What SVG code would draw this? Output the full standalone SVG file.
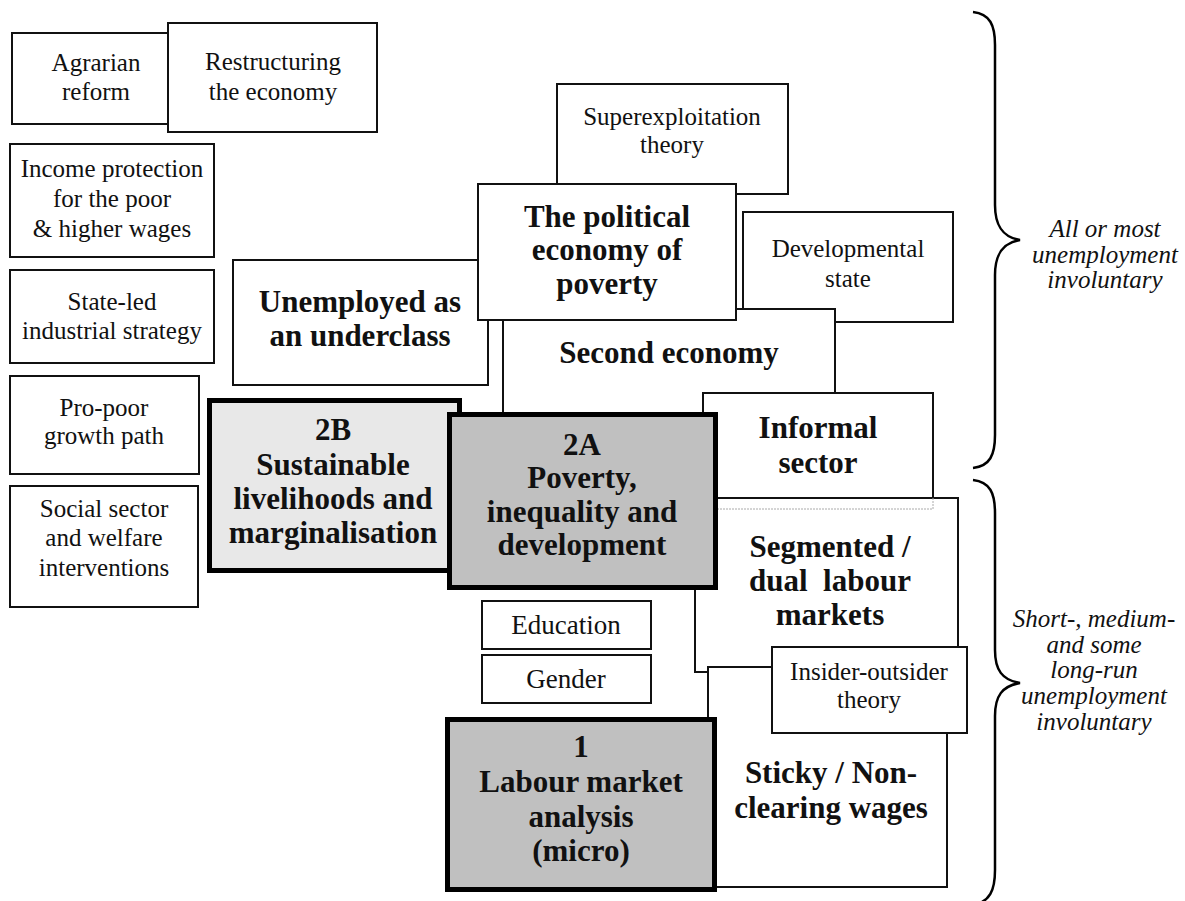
<svg xmlns="http://www.w3.org/2000/svg" width="1185" height="901" viewBox="0 0 1185 901" font-family="'Liberation Serif', 'DejaVu Serif', serif">
<style>
.box{fill:#fff;stroke:#111;stroke-width:2}
.thick{stroke:#000;stroke-width:5}
.grey{fill:#c0c0c0}
.light{fill:#e8e8e8}
text{font-family:'Liberation Serif','DejaVu Serif',serif;text-anchor:middle;fill:#111}
.r{font-size:25px}
.m{font-size:27px}
.b{font-size:31px;font-weight:bold}
.i{font-size:25px;font-style:italic}
.brace{fill:none;stroke:#000;stroke-width:2.5}
</style>
<rect width="1185" height="901" fill="#fff"/>
<g id="agrarian"><rect class="box" x="12" y="33" width="170" height="91"/><text class="r" x="96" y="71">Agrarian</text><text class="r" x="96" y="100">reform</text></g>
<g id="restructuring"><rect class="box" x="168" y="23" width="209" height="109"/><text class="r" x="273" y="70">Restructuring</text><text class="r" x="273" y="100">the economy</text></g>
<g id="income"><rect class="box" x="10" y="144" width="204" height="113"/><text class="r" x="112" y="177">Income protection</text><text class="r" x="112" y="207">for the poor</text><text class="r" x="112" y="237">&amp; higher wages</text></g>
<g id="stateled"><rect class="box" x="10" y="270" width="204" height="93"/><text class="r" x="112" y="310">State-led</text><text class="r" x="112" y="339">industrial strategy</text></g>
<g id="propoor"><rect class="box" x="10" y="376" width="189" height="98"/><text class="r" x="104" y="416">Pro-poor</text><text class="r" x="104" y="444">growth path</text></g>
<g id="social"><rect class="box" x="10" y="486" width="188" height="121"/><text class="r" x="104" y="517">Social sector</text><text class="r" x="104" y="546">and welfare</text><text class="r" x="104" y="576">interventions</text></g>
<g id="superexploitation"><rect class="box" x="557" y="84" width="231" height="110"/><text class="r" x="672" y="125">Superexploitation</text><text class="r" x="672" y="153">theory</text></g>
<g id="developmental"><rect class="box" x="743" y="212" width="210" height="110"/><text class="r" x="848" y="257">Developmental</text><text class="r" x="848" y="287">state</text></g>
<g id="underclass"><rect class="box" x="233" y="260" width="255" height="125"/><text class="b" x="360" y="312">Unemployed as</text><text class="b" x="360" y="346">an underclass</text></g>
<g id="secondeconomy"><rect class="box" x="503" y="309" width="332" height="111"/><text class="b" x="669" y="363">Second economy</text></g>
<g id="politicaleconomy"><rect class="box" x="478" y="184" width="258" height="136"/><text class="b" x="607" y="227">The political</text><text class="b" x="607" y="260">economy of</text><text class="b" x="607" y="294">poverty</text></g>
<g id="n2B"><rect class="thick light" x="209.5" y="400.5" width="250" height="170"/><text class="b" x="333" y="440">2B</text><text class="b" x="333" y="475">Sustainable</text><text class="b" x="333" y="509">livelihoods and</text><text class="b" x="333" y="543">marginalisation</text></g>
<g id="informal"><rect class="box" x="703" y="393" width="230" height="105"/><text class="b" x="818" y="438">Informal</text><text class="b" x="818" y="473">sector</text></g>
<g id="segmented"><rect class="box" x="695" y="498" width="263" height="174"/><path d="M717 509H933V498" fill="none" stroke="#aaa" stroke-width="1" stroke-dasharray="2 1"/><text class="b" x="830" y="557">Segmented /</text><text class="b" x="830" y="591" xml:space="preserve">dual  labour</text><text class="b" x="830" y="625">markets</text></g>
<g id="sticky"><rect class="box" x="708" y="667" width="239" height="220"/><text class="b" x="831" y="783">Sticky / Non-</text><text class="b" x="831" y="818">clearing wages</text></g>
<g id="insider"><rect class="box" x="772" y="647" width="195" height="86"/><text class="r" x="869" y="680">Insider-outsider</text><text class="r" x="869" y="708">theory</text></g>
<g id="n2A"><rect class="thick grey" x="449.5" y="414.5" width="266" height="173"/><text class="b" x="582" y="455">2A</text><text class="b" x="582" y="488">Poverty,</text><text class="b" x="582" y="522">inequality and</text><text class="b" x="582" y="555">development</text></g>
<g id="education"><rect class="box" x="482" y="601" width="169" height="48"/><text class="m" x="566" y="634">Education</text></g>
<g id="gender"><rect class="box" x="482" y="655" width="169" height="48"/><text class="m" x="566" y="688">Gender</text></g>
<g id="n1"><rect class="thick grey" x="447.5" y="719.5" width="267" height="170"/><text class="b" x="581" y="757">1</text><text class="b" x="581" y="792">Labour market</text><text class="b" x="581" y="827">analysis</text><text class="b" x="581" y="861">(micro)</text></g>
<g id="connectors">
<path class="brace" d="M973 12C990 14 995 25 995 45L995 205C995 225 1002 237 1020 240C1002 243 995 255 995 275L995 435C995 455 990 466 973 468"/>
<path class="brace" d="M973 480C990 482 995 493 995 513L995 650C995 670 1002 680 1020 683C1002 686 995 696 995 716L995 870C995 890 990 902 973 905"/>
</g>
<g id="label-top"><text class="i" x="1105" y="237">All or most</text><text class="i" x="1105" y="263">unemployment</text><text class="i" x="1105" y="288">involuntary</text></g>
<g id="label-bottom"><text class="i" x="1094" y="627">Short-, medium-</text><text class="i" x="1094" y="653">and some</text><text class="i" x="1094" y="678">long-run</text><text class="i" x="1094" y="704">unemployment</text><text class="i" x="1094" y="730">involuntary</text></g>
</svg>
